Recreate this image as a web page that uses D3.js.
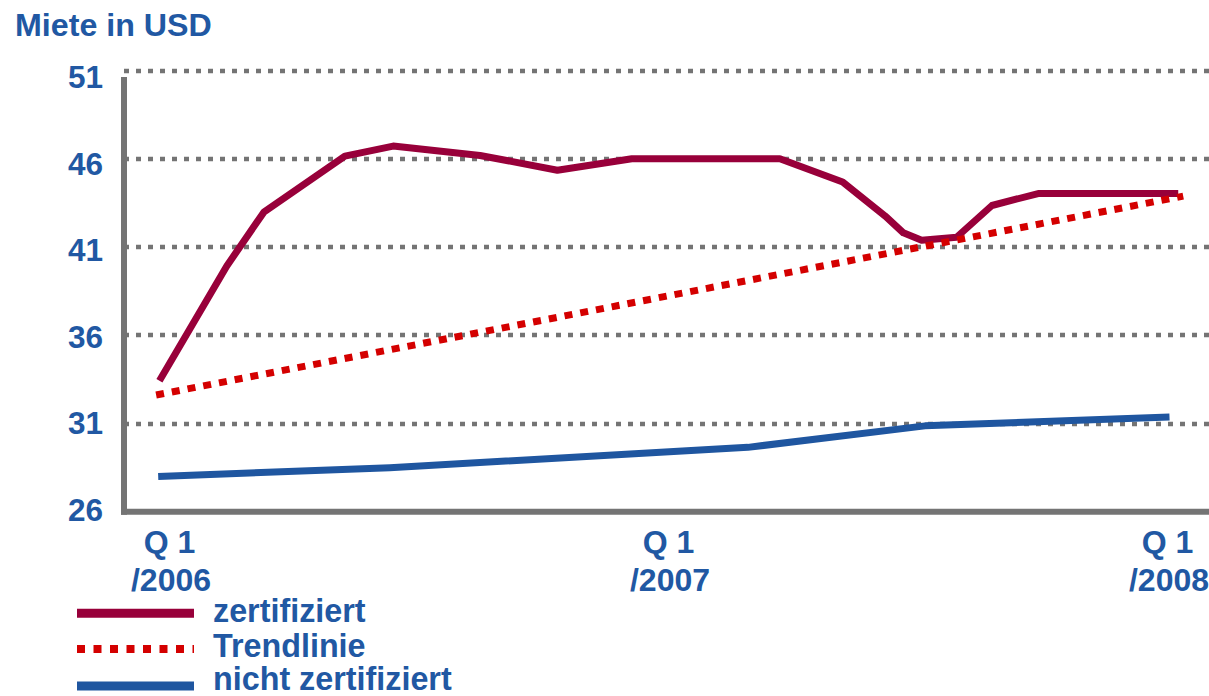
<!DOCTYPE html>
<html>
<head>
<meta charset="utf-8">
<script src="https://cdn.jsdelivr.net/npm/d3@7"></script>
<style>
  html, body { margin: 0; padding: 0; background: #fff; }
  svg { display: block; font-family: "Liberation Sans", Arial, Helvetica, sans-serif; font-weight: bold; }
</style>
</head>
<body>
<svg id="chart" width="1209" height="696"></svg>
<script>
// ---- data (x = months since Q1/2006) ----
const title = "Miete in USD";
const yTicks = [26, 31, 36, 41, 46, 51];
const xTicks = [0, 12, 24];
const xTickLabels = [["Q 1", "/2006"], ["Q 1", "/2007"], ["Q 1", "/2008"]];

const zertMonths = [-0.23, 1.39, 2.28, 4.23, 5.39, 7.48, 9.34, 11.13, 14.69, 16.2, 17.22, 17.66, 18.1, 18.94, 19.79, 20.9, 24.27];
const zertValues = [33.43, 39.94, 42.99, 46.17, 46.74, 46.21, 45.37, 46.02, 46.02, 44.7, 42.78, 41.82, 41.4, 41.57, 43.37, 44.05, 44.05];

const trendMonths = [-0.31, 24.39];
const trendValues = [32.62, 43.9];

const nichtMonths = [-0.26, 5.31, 13.92, 18.18, 24.06];
const nichtValues = [28.0, 28.5, 29.65, 30.87, 31.37];

const legendLabels = ["zertifiziert", "Trendlinie", "nicht zertifiziert"];

// ---- styles ----
const textColor = "#2158a3";
const gridColor = "#747474";
const zertColor = "#98003a";
const trendColor = "#d40000";
const nichtColor = "#1f56a0";

const svg = d3.select("#chart");

const x = d3.scaleLinear().domain([0, 24]).range([169, 1167]);
const y = d3.scaleLinear().domain([26, 51]).range([511.7, 71]);
const yLab = d3.scaleLinear().domain([26, 51]).range([510, 77.5]);

// title
svg.append("text")
  .attr("x", 15).attr("y", 36)
  .attr("fill", textColor)
  .style("font-size", "32.2px")
  .text(title);

// gridlines
svg.append("g").selectAll("line")
  .data(yTicks.filter(d => d > 26))
  .join("line")
  .attr("x1", 124).attr("x2", 1209)
  .attr("y1", d => Math.round(y(d))).attr("y2", d => Math.round(y(d)))
  .attr("stroke", gridColor)
  .attr("stroke-width", 4.4)
  .attr("stroke-dasharray", "5,7");

// axis lines
svg.append("line")
  .attr("x1", 124).attr("x2", 124)
  .attr("y1", y(51) + 6).attr("y2", y(26) + 3)
  .attr("stroke", gridColor).attr("stroke-width", 6);
svg.append("line")
  .attr("x1", 121).attr("x2", 1209)
  .attr("y1", y(26)).attr("y2", y(26))
  .attr("stroke", gridColor).attr("stroke-width", 6);

// y axis labels
const yAxis = svg.append("g")
  .attr("transform", "translate(103,0)")
  .call(d3.axisLeft(yLab).tickValues(yTicks).tickSize(0).tickPadding(0).tickFormat(d3.format("d")));
yAxis.select(".domain").remove();
yAxis.selectAll("text")
  .attr("fill", textColor)
  .style("font-size", "31.5px")
  .style("font-family", "'Liberation Sans', Arial, sans-serif")
  .style("font-weight", "bold");

// x axis labels
const xAxis = svg.append("g")
  .attr("transform", "translate(0,553)")
  .call(d3.axisBottom(x).tickValues(xTicks).tickSize(0).tickFormat(() => ""));
xAxis.select(".domain").remove();
xAxis.selectAll(".tick text").each(function(d) {
  const t = d3.select(this);
  t.attr("y", 0).attr("dy", null)
   .attr("fill", textColor)
   .style("font-size", "32px")
   .style("font-family", "'Liberation Sans', Arial, sans-serif")
   .style("font-weight", "bold");
  const lab = xTickLabels[xTicks.indexOf(d)];
  t.append("tspan").attr("x", 0).attr("y", 0).text(lab[0]);
  t.append("tspan").attr("x", 1.5).attr("y", 38).text(lab[1]);
});

// lines
const line = d3.line().x(d => x(d[0])).y(d => y(d[1]));

const nichtData = nichtMonths.map((m, i) => [m, nichtValues[i]]);
const trendData = trendMonths.map((m, i) => [m, trendValues[i]]);
const zertData = zertMonths.map((m, i) => [m, zertValues[i]]);

svg.append("path").datum(nichtData)
  .attr("d", line).attr("fill", "none")
  .attr("stroke", nichtColor).attr("stroke-width", 7)
  .attr("stroke-linejoin", "round");

svg.append("path").datum(zertData)
  .attr("d", line).attr("fill", "none")
  .attr("stroke", zertColor).attr("stroke-width", 7)
  .attr("stroke-linejoin", "round");

svg.append("path").datum(trendData)
  .attr("d", line).attr("fill", "none")
  .attr("stroke", trendColor).attr("stroke-width", 7)
  .attr("stroke-dasharray", "8,8");

// legend
const legendStyles = [
  { color: zertColor, dash: null, ly: 613.3, ty: 621.7 },
  { color: trendColor, dash: "8,8.5", ly: 649, ty: 657.3 },
  { color: nichtColor, dash: null, ly: 686, ty: 689.5 }
];
const leg = svg.append("g");
legendLabels.forEach((lab, i) => {
  const s = legendStyles[i];
  leg.append("line")
    .attr("x1", 77).attr("x2", 194)
    .attr("y1", s.ly).attr("y2", s.ly)
    .attr("stroke", s.color)
    .attr("stroke-width", i === 1 ? 8 : 9)
    .attr("stroke-dasharray", s.dash);
  leg.append("text")
    .attr("x", 213).attr("y", s.ty)
    .attr("fill", textColor)
    .style("font-size", "32.3px")
    .text(lab);
});
</script>
</body>
</html>
